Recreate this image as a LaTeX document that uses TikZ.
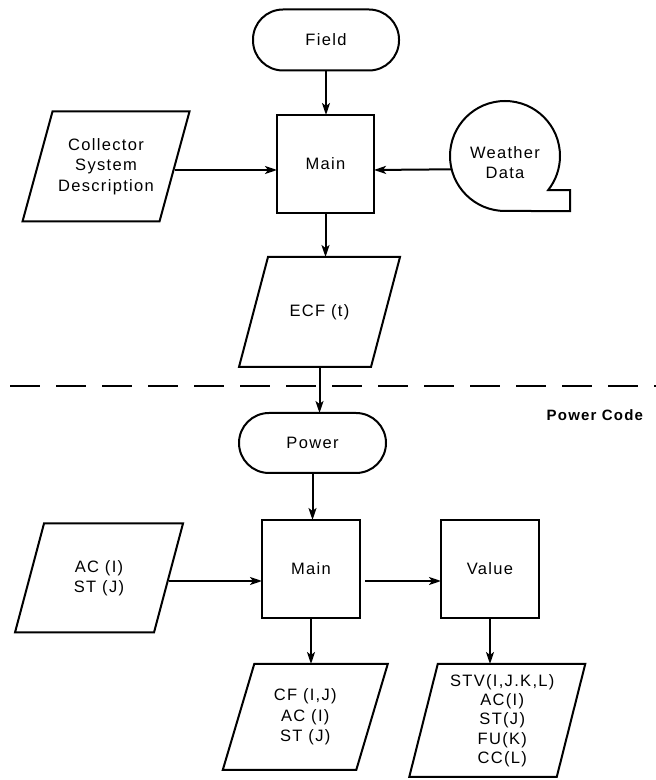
\documentclass[tikz,border=0pt]{standalone}
\usepackage{fontspec}
\setmainfont{Liberation Sans}[LetterSpace=8]
\usetikzlibrary{arrows.meta}
\newcommand\mypara[2]{\draw[boxline] ([xshift=#2]#1.north west) -- ([xshift=#2]#1.north east) -- ([xshift=-#2]#1.south east) -- ([xshift=-#2]#1.south west) -- cycle;}
\begin{document}
\begin{tikzpicture}[x=1pt,y=1pt,
  every node/.style={font=\fontsize{16.5}{20.5}\selectfont, align=center, inner sep=0pt, outer sep=0pt},
  boxline/.style={line width=2pt, line join=miter},
  procbox/.style={draw, boxline, minimum width=97pt, minimum height=98pt},
  termbox/.style={draw, boxline, rounded corners=30pt, minimum width=146pt, minimum height=61pt},
  arr/.style={line width=2pt, -{Stealth[length=12pt,width=8pt,inset=3pt]}},
  dashline/.style={line width=2.4pt, dash pattern=on 30pt off 16pt}
]
\useasboundingbox (0,0) rectangle (656,780);
% upper part
\node[termbox] (field) at (326,740) {Field};
\node[procbox] (main1) at (325.5,616) {Main};
\node[minimum width=137pt, minimum height=110pt] (coll) at (106,613.5) {Collector\\System\\Description};
\mypara{coll}{15pt}
\node[circle, minimum size=110pt] (weather) at (505,624) {};
\draw[boxline] (weather.270) arc[start angle=270, end angle=-38.2, radius=55pt] -- ++(21.8pt,0) -- ++(0,-21pt) -- cycle;
\node (wtext) at ([yshift=-6.5pt]weather.center) {Weather\\Data};
\node[minimum width=132pt, minimum height=110pt] (ecf) at (319.5,468) {ECF (t)};
\mypara{ecf}{14.5pt}
% divider
\coordinate (dl) at (10,394);
\coordinate (dr) at (656,394);
\draw[dashline] (dl) -- (dr);
\node[anchor=east, font=\bfseries\fontsize{15}{18}\selectfont] (pcode) at (643,365) {Power Code};
% lower part
\node[termbox, minimum width=147pt, minimum height=60pt] (power) at (312.5,337) {Power};
\node[procbox, minimum width=98pt] (main2) at (311,211) {Main};
\node[procbox, minimum width=98pt] (value) at (490,211) {Value};
\node[minimum width=139pt, minimum height=109pt] (ac) at (99,202) {AC (I)\\ST (J)};
\mypara{ac}{14.5pt}
\node[minimum width=133.5pt, minimum height=106pt] (cf) at (305.25,63) {CF (I,J)\\AC (I)\\ST (J)};
\mypara{cf}{15.75pt}
\node[minimum width=147.5pt, minimum height=113pt] (stv) at (497.25,59.5) {};
\node[font=\fontsize{16.5}{19.3}\selectfont] (stvtext) at ([xshift=5pt]stv.center) {STV(I,J.K,L)\\AC(I)\\ST(J)\\FU(K)\\CC(L)};
\mypara{stv}{14.25pt}
% connectors
\draw[arr] (field.south) -- (field.south |- main1.north);
\draw[arr] ([yshift=-3.5pt]coll.east) -- ([yshift=-6pt]main1.west);
\draw[arr] (weather.194.7) -- ([yshift=-6pt]main1.east);
\draw[arr] (main1.south) -- (main1.south |- ecf.north);
\draw[arr] (ecf.south) -- (ecf.south |- power.north);
\draw[arr] (power.south) -- (power.south |- main2.north);
\draw[arr] ([yshift=-3pt]ac.east) -- ([yshift=-12pt]main2.west);
\draw[arr, shorten <=5pt] ([yshift=-12pt]main2.east) -- ([yshift=-12pt]value.west);
\draw[arr] (main2.south) -- (main2.south |- cf.north);
\draw[arr] (value.south) -- (value.south |- stv.north);
\end{tikzpicture}
\end{document}
